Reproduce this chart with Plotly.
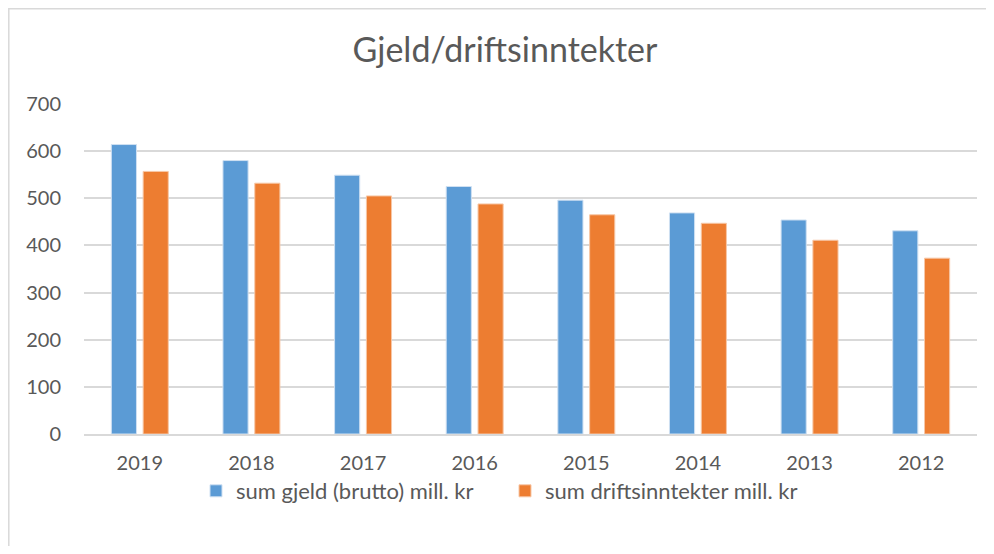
import plotly.graph_objects as go

years = ["2019", "2018", "2017", "2016", "2015", "2014", "2013", "2012"]
gjeld = [614, 580, 549, 525, 496, 469, 454, 431]
drift = [557, 532, 505, 488, 465, 447, 411, 373]
series_names = ["sum gjeld (brutto) mill. kr", "sum driftsinntekter mill. kr"]
y_ticks = [0, 100, 200, 300, 400, 500, 600, 700]

FONT = "Lato"
TXT = "#595959"
GRID = "#d9d9d9"

fig = go.Figure()
fig.add_trace(go.Bar(x=years, y=gjeld, name=series_names[0],
                     marker=dict(color="#5b9bd5", line=dict(color="#cfe0f2", width=1))))
fig.add_trace(go.Bar(x=years, y=drift, name=series_names[1],
                     marker=dict(color="#ed7d31", line=dict(color="#f7c7a6", width=1))))

# page offset of 8px (body margin)
OFF = 8
W, H = 994 - 2 * OFF, 554 - 2 * OFF
PL, PR, PT, PB = 84, 977, 104, 434          # plot area in page pixels
L, R, T, B = PL - OFF, W - (PR - OFF), PT - OFF, H - (PB - OFF)
pw, ph = PR - PL, PB - PT

def px_x(p):
    return (p - PL) / pw

def px_y(p):
    return (PB - p) / ph

fig.update_layout(
    width=W, height=H,
    margin=dict(l=L, r=R, t=T, b=B),
    paper_bgcolor="white", plot_bgcolor="white",
    barmode="group", bargap=0.43, bargroupgap=0.21,
    font=dict(family=FONT, color=TXT, size=20),
    title=dict(text="Gjeld/driftsinntekter", x=px_x(505), xref="paper", xanchor="center",
               y=1 - (50 - OFF) / H, yanchor="middle",
               font=dict(family=FONT, size=34, color=TXT)),
    xaxis=dict(showgrid=False, showline=True, linecolor=GRID, linewidth=1.5,
               ticks="", tickfont=dict(size=20, color=TXT), ticklabelstandoff=10),
    yaxis=dict(range=[0, 700], tickvals=y_ticks, showgrid=True, gridcolor=GRID,
               gridwidth=1.5, zeroline=False, showline=False, ticks="",
               tickfont=dict(size=20, color=TXT), ticklabelstandoff=22),
    legend=dict(orientation="h", x=px_x(196), xanchor="left", y=px_y(491), yanchor="middle",
                font=dict(size=22, color=TXT), itemwidth=30, tracegroupgap=0,
                entrywidth=264),
    showlegend=True,
)

fig.add_shape(type="rect", xref="paper", yref="paper",
              x0=px_x(OFF + 0.8), x1=px_x(1100), y0=px_y(700), y1=px_y(OFF + 0.8),
              line=dict(color=GRID, width=1.5), fillcolor="rgba(0,0,0,0)", layer="below")

fig.write_html("out.html")
